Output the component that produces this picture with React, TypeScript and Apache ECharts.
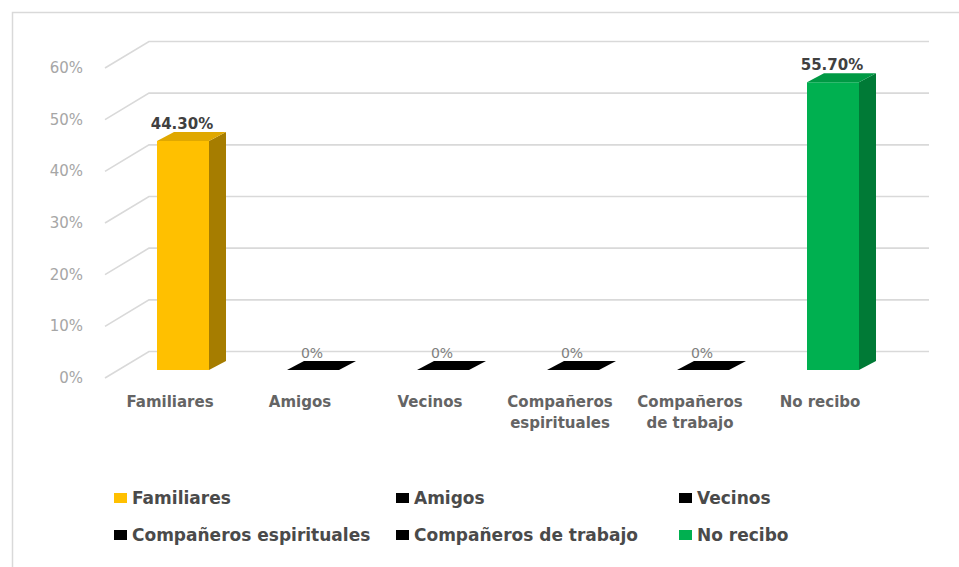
import React, { useEffect, useRef } from "react";
import * as echarts from "echarts";

const categories = [
  "Familiares",
  "Amigos",
  "Vecinos",
  "Compañeros espirituales",
  "Compañeros de trabajo",
  "No recibo",
];
const axisLabels = [
  "Familiares",
  "Amigos",
  "Vecinos",
  "Compañeros\nespirituales",
  "Compañeros\nde trabajo",
  "No recibo",
];
const values = [44.3, 0, 0, 0, 0, 55.7];
const yTicks = [0, 10, 20, 30, 40, 50, 60];

const FONT = "'DejaVu Sans', 'Open Sans', sans-serif";
const faceColors = [
  { front: "#FFC000", side: "#A67D00", top: "#E0A800" },
  { front: "#000000", side: "#000000", top: "#000000" },
  { front: "#000000", side: "#000000", top: "#000000" },
  { front: "#000000", side: "#000000", top: "#000000" },
  { front: "#000000", side: "#000000", top: "#000000" },
  { front: "#00B050", side: "#007A36", top: "#009944" },
];

// perspective offsets
const WALL_DX = 44;
const WALL_DY = -26.5;
const PLANE_DX = 13;
const PLANE_DY = -8;
const DEPTH_DX = 17;
const DEPTH_DY = -9;

function fmt(v: number) {
  return v === 0 ? "0%" : v.toFixed(2) + "%";
}

export default function App() {
  const ref = useRef<HTMLDivElement>(null);
  useEffect(() => {
    if (!ref.current) return;
    const chart = echarts.init(ref.current, undefined, { renderer: "svg" });

    const gridSeries: any = {
      type: "custom",
      name: "grid",
      silent: true,
      z: 1,
      data: yTicks.map((t) => [0, t]),
      renderItem: (params: any, api: any) => {
        const cs = params.coordSys;
        const y = api.coord([0, api.value(1)])[1];
        return {
          type: "polyline",
          shape: {
            points: [
              [cs.x, y],
              [cs.x + WALL_DX, y + WALL_DY],
              [cs.x + cs.width + WALL_DX, y + WALL_DY],
            ],
          },
          style: { stroke: "#d9d9d9", lineWidth: 1.6, fill: "none" },
        };
      },
    };

    const barSeries = categories.map((name, i) => ({
      type: "custom",
      name,
      z: 2,
      itemStyle: { color: faceColors[i].front },
      data: [[i, values[i]]],
      renderItem: (params: any, api: any) => {
        const idx = api.value(0);
        const v = api.value(1);
        const p0 = api.coord([idx, 0]);
        const pv = api.coord([idx, v]);
        const band = api.size([1, 0])[0];
        const w = band * 0.4;
        const xc = p0[0] + PLANE_DX;
        const x1 = xc - w / 2;
        const x2 = xc + w / 2;
        const yb = p0[1] + PLANE_DY;
        const yt = pv[1] + PLANE_DY;
        const c = faceColors[idx];
        const children: any[] = [];
        if (yb - yt > 0.5) {
          children.push({
            type: "rect",
            shape: { x: x1, y: yt, width: w, height: yb - yt },
            style: { fill: c.front },
          });
          children.push({
            type: "polygon",
            shape: {
              points: [
                [x2, yt],
                [x2 + DEPTH_DX, yt + DEPTH_DY],
                [x2 + DEPTH_DX, yb + DEPTH_DY],
                [x2, yb],
              ],
            },
            style: { fill: c.side },
          });
        }
        children.push({
          type: "polygon",
          shape: {
            points: [
              [x1, yt],
              [x1 + DEPTH_DX, yt + DEPTH_DY],
              [x2 + DEPTH_DX, yt + DEPTH_DY],
              [x2, yt],
            ],
          },
          style: { fill: c.top },
        });
        children.push({
          type: "text",
          style: {
            text: fmt(v),
            x: xc - 1,
            y: yt - 17,
            align: "center",
            verticalAlign: "middle",
            fontFamily: FONT,
            fontSize: v === 0 ? 14 : 15,
            fontWeight: v === 0 ? "normal" : "bold",
            fill: v === 0 ? "#7f7f7f" : "#404040",
          },
        });
        return { type: "group", children };
      },
    }));

    const legendCommon = {
      orient: "vertical",
      icon: "rect",
      itemWidth: 13,
      itemHeight: 10,
      itemGap: 19,
      padding: 0,
      selectedMode: false,
      textStyle: {
        fontFamily: FONT,
        fontSize: 17,
        fontWeight: "bold",
        color: "#4a4a4a",
        lineHeight: 18,
      },
    };

    chart.setOption({
      animation: false,
      backgroundColor: "#ffffff",
      grid: { left: 105, right: 74, top: 68, bottom: 189, containLabel: false },
      xAxis: {
        type: "category",
        data: axisLabels,
        boundaryGap: true,
        axisLine: { show: false },
        axisTick: { show: false },
        splitLine: { show: false },
        axisLabel: {
          interval: 0,
          margin: 13,
          fontFamily: FONT,
          fontSize: 15,
          fontWeight: "bold",
          color: "#646464",
          lineHeight: 21,
        },
      },
      yAxis: {
        type: "value",
        min: 0,
        max: 60,
        interval: 10,
        axisLine: { show: false },
        axisTick: { show: false },
        splitLine: { show: false },
        axisLabel: {
          formatter: "{value}%",
          margin: 22,
          fontFamily: FONT,
          fontSize: 15,
          color: "#a6a6a6",
        },
      },
      legend: [
        { ...legendCommon, left: 114, top: 489, data: [categories[0], categories[3]] },
        { ...legendCommon, left: 396, top: 489, data: [categories[1], categories[4]] },
        { ...legendCommon, left: 679, top: 489, data: [categories[2], categories[5]] },
      ],
      graphic: [
        {
          type: "rect",
          left: 10,
          top: 10,
          shape: { x: 0, y: 0, width: 1100, height: 700 },
          style: { fill: "none", stroke: "#d9d9d9", lineWidth: 1.5 },
          silent: true,
        },
      ],
      series: [gridSeries, ...barSeries],
    });

    return () => chart.dispose();
  }, []);

  return (
    <div
      ref={ref}
      style={{ position: "fixed", left: 0, top: 0, width: 959, height: 567 }}
    />
  );
}
